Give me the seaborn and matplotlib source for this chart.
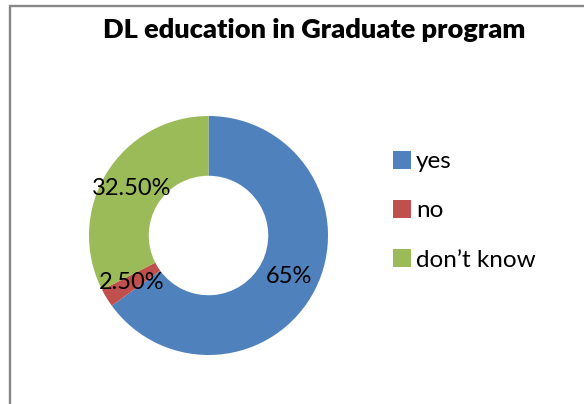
import matplotlib
matplotlib.use("Agg")
import matplotlib.pyplot as plt
from matplotlib.lines import Line2D
from matplotlib.patches import Patch
import seaborn as sns

categories = ["yes", "no", "don\u2019t know"]
shares = [65.0, 2.5, 32.5]
value_labels = ["65%", "2.50%", "32.50%"]
title = "DL education in Graduate program"

sns.set_theme(style="white")
plt.rcParams["font.family"] = ["Lato", "DejaVu Sans"]
plt.rcParams["text.color"] = "black"
colors = ["#4F81BD", "#C0504D", "#9BBB59"]

W, H = 584, 404
fig = plt.figure(figsize=(W / 100, H / 100), dpi=100)
fig.patch.set_facecolor("white")

# chart frame: top and left edges
x0, y0 = 9.5 / W, 1 - 6 / H
fig.add_artist(Line2D([x0, x0, 1.05], [-0.05, y0, y0], transform=fig.transFigure,
                      color="#878787", linewidth=1.7, solid_joinstyle="miter"))

# doughnut
cx, cy, r = 208.5, 235.5, 119.5
ax = fig.add_axes([(cx - r) / W, (H - cy - r) / H, 2 * r / W, 2 * r / H])
wedges, _, autotexts = ax.pie(
    shares, colors=colors, startangle=90, counterclock=False, radius=1.0,
    autopct="%1.1f", pctdistance=0.755,
    wedgeprops=dict(width=0.5, edgecolor="none"),
    textprops=dict(fontsize=17, color="black"),
)
for t, s in zip(autotexts, value_labels):
    t.set_text(s)
ax.set_xlim(-1, 1)
ax.set_ylim(-1, 1)
ax.set_aspect("equal")
ax.axis("off")

fig.text(314.5 / W, 1 - 30 / H, title, ha="center", va="center",
         fontsize=19.5, fontweight="heavy", color="black")

handles = [Patch(facecolor=c, edgecolor="none") for c in colors]
leg = fig.legend(handles, categories, loc="upper left",
                 bbox_to_anchor=(383 / W, 1 - 141 / H), frameon=False,
                 fontsize=17.5, handlelength=0.75, handleheight=0.75,
                 handletextpad=0.2, labelspacing=1.15, borderaxespad=0)
for t in leg.get_texts():
    t.set_color("black")

fig.savefig("out.png", dpi=100, facecolor="white")
